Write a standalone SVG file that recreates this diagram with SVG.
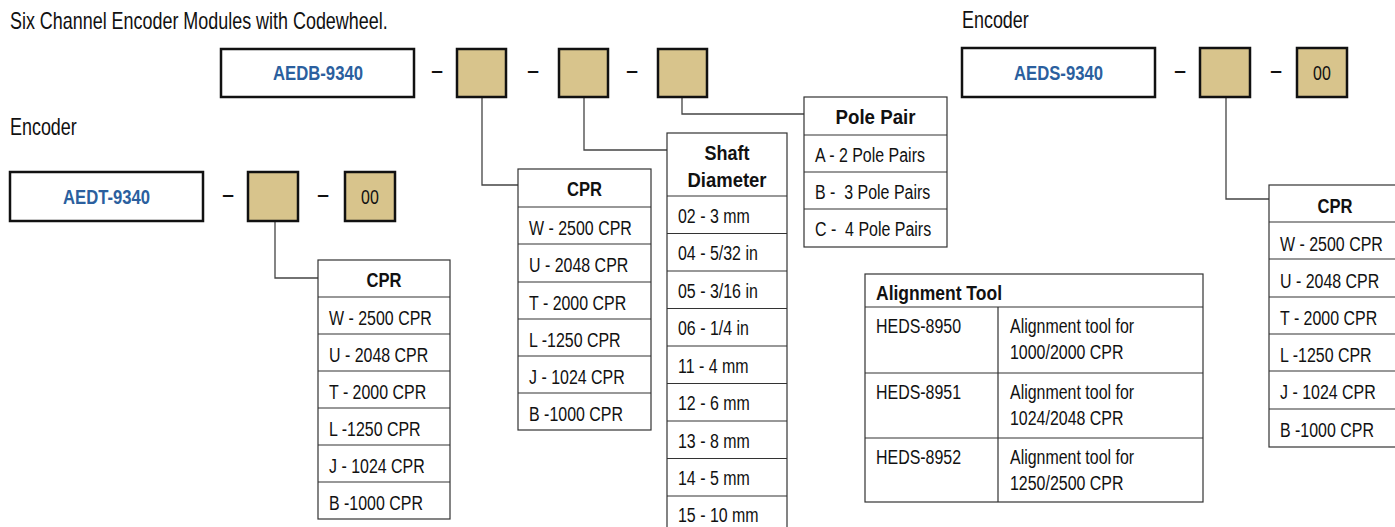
<svg xmlns="http://www.w3.org/2000/svg" width="1395" height="527" viewBox="0 0 1395 527">
<style>
text{font-family:"Liberation Sans",Arial,sans-serif;font-size:21px;fill:#111;white-space:pre;transform-box:fill-box;transform-origin:0% 50%;transform:scale(0.76,1)}
.t{font-size:23px;transform:scale(0.78,1)}
.h{font-weight:bold;text-anchor:middle;transform:none}
.hl{font-weight:bold;transform:none}
.pn{font-weight:bold;fill:#2b5f9e;text-anchor:middle;transform:none}
.c{text-anchor:middle;transform-origin:50% 50%}
.d{font-weight:bold;text-anchor:middle;transform:none}
.main{fill:#fff;stroke:#111;stroke-width:2.5}
.opt{fill:#d8c48c;stroke:#111;stroke-width:2.5}
.tb{fill:#fff;stroke:#333;stroke-width:1.2}
.rl{stroke:#333;stroke-width:1.2}
.cn{fill:none;stroke:#444;stroke-width:1.3}
</style>
<rect width="1395" height="527" fill="#fff"/>
<text class="t" x="10" y="29">Six Channel Encoder Modules with Codewheel.</text>
<text class="t" x="10" y="135">Encoder</text>
<text class="t" x="962" y="28">Encoder</text>

<g id="connectors">
<polyline class="cn" points="482,97 482,185 519,185"/>
<polyline class="cn" points="584,97 584,150 667,150"/>
<polyline class="cn" points="682,97 682,114 804,114"/>
<polyline class="cn" points="275,221 275,278 318,278"/>
<polyline class="cn" points="1226,97 1226,199 1269,199"/>
</g>

<g id="aedb">
<rect class="main" x="221" y="49" width="193" height="48"/>
<text class="pn" x="318" y="80" textLength="90" lengthAdjust="spacingAndGlyphs">AEDB-9340</text>
<text class="d" x="437" y="77">–</text>
<rect class="opt" x="457" y="49" width="49" height="48"/>
<text class="d" x="533" y="77">–</text>
<rect class="opt" x="559" y="49" width="49" height="48"/>
<text class="d" x="632" y="77">–</text>
<rect class="opt" x="658" y="49" width="49" height="48"/>
</g>

<g id="aedt">
<rect class="main" x="10" y="172" width="193" height="49"/>
<text class="pn" x="106.5" y="204" textLength="87" lengthAdjust="spacingAndGlyphs">AEDT-9340</text>
<text class="d" x="228" y="201">–</text>
<rect class="opt" x="248" y="172" width="50" height="49"/>
<text class="d" x="323" y="201">–</text>
<rect class="opt" x="345" y="172" width="50" height="49"/>
<text class="c" x="370" y="204">00</text>
</g>

<g id="aeds">
<rect class="main" x="962" y="48" width="193" height="49"/>
<text class="pn" x="1058.5" y="80" textLength="89" lengthAdjust="spacingAndGlyphs">AEDS-9340</text>
<text class="d" x="1180" y="77">–</text>
<rect class="opt" x="1200" y="48" width="50" height="49"/>
<text class="d" x="1276" y="77">–</text>
<rect class="opt" x="1297" y="48" width="50" height="49"/>
<text class="c" x="1322" y="80">00</text>
</g>

<g id="cpr-left">
<rect class="tb" x="318" y="260" width="132" height="259"/>
<path class="rl" d="M318 297H450M318 334H450M318 371H450M318 408H450M318 445H450M318 482H450"/>
<text class="h" x="384" y="287" textLength="35" lengthAdjust="spacingAndGlyphs">CPR</text>
<text x="329" y="325">W - 2500 CPR</text>
<text x="329" y="362">U - 2048 CPR</text>
<text x="329" y="399">T - 2000 CPR</text>
<text x="329" y="436">L -1250 CPR</text>
<text x="329" y="473">J - 1024 CPR</text>
<text x="329" y="510">B -1000 CPR</text>
</g>

<g id="cpr-mid">
<rect class="tb" x="518" y="169" width="133" height="261"/>
<path class="rl" d="M518 207H651M518 244H651M518 282H651M518 319H651M518 356H651M518 393H651"/>
<text class="h" x="584.5" y="196" textLength="35" lengthAdjust="spacingAndGlyphs">CPR</text>
<text x="529" y="235">W - 2500 CPR</text>
<text x="529" y="272">U - 2048 CPR</text>
<text x="529" y="310">T - 2000 CPR</text>
<text x="529" y="347">L -1250 CPR</text>
<text x="529" y="384">J - 1024 CPR</text>
<text x="529" y="421">B -1000 CPR</text>
</g>

<g id="shaft">
<rect class="tb" x="667" y="133" width="120" height="402"/>
<path class="rl" d="M667 196H787M667 233.5H787M667 271H787M667 308.5H787M667 346H787M667 383.5H787M667 421H787M667 458.5H787M667 496H787"/>
<text class="h" x="727" y="160" textLength="45" lengthAdjust="spacingAndGlyphs">Shaft</text>
<text class="h" x="727" y="187" textLength="79" lengthAdjust="spacingAndGlyphs">Diameter</text>
<text x="678" y="223">02 - 3 mm</text>
<text x="678" y="260">04 - 5/32 in</text>
<text x="678" y="298">05 - 3/16 in</text>
<text x="678" y="335">06 - 1/4 in</text>
<text x="678" y="373">11 - 4 mm</text>
<text x="678" y="410">12 - 6 mm</text>
<text x="678" y="448">13 - 8 mm</text>
<text x="678" y="485">14 - 5 mm</text>
<text x="678" y="522">15 - 10 mm</text>
</g>

<g id="pole">
<rect class="tb" x="804" y="97" width="143" height="150"/>
<path class="rl" d="M804 135H947M804 172H947M804 209H947"/>
<text class="h" x="875.5" y="124" textLength="80" lengthAdjust="spacingAndGlyphs">Pole Pair</text>
<text x="815" y="162">A - 2 Pole Pairs</text>
<text x="815" y="199">B -  3 Pole Pairs</text>
<text x="815" y="236">C -  4 Pole Pairs</text>
</g>

<g id="alignment">
<rect class="tb" x="865" y="274" width="338" height="228"/>
<path class="rl" d="M865 307H1203M865 373H1203M865 438H1203M998 307V502"/>
<text class="hl" x="876" y="300" textLength="126" lengthAdjust="spacingAndGlyphs">Alignment Tool</text>
<text x="876" y="333">HEDS-8950</text>
<text x="1010" y="333">Alignment tool for</text>
<text x="1010" y="359">1000/2000 CPR</text>
<text x="876" y="399">HEDS-8951</text>
<text x="1010" y="399">Alignment tool for</text>
<text x="1010" y="425">1024/2048 CPR</text>
<text x="876" y="464">HEDS-8952</text>
<text x="1010" y="464">Alignment tool for</text>
<text x="1010" y="490">1250/2500 CPR</text>
</g>

<g id="cpr-right">
<rect class="tb" x="1269" y="185" width="160" height="262"/>
<path class="rl" d="M1269 222H1429M1269 259H1429M1269 297H1429M1269 334H1429M1269 371H1429M1269 409H1429"/>
<text class="h" x="1335" y="213" textLength="35" lengthAdjust="spacingAndGlyphs">CPR</text>
<text x="1280" y="251">W - 2500 CPR</text>
<text x="1280" y="288">U - 2048 CPR</text>
<text x="1280" y="325">T - 2000 CPR</text>
<text x="1280" y="362">L -1250 CPR</text>
<text x="1280" y="399">J - 1024 CPR</text>
<text x="1280" y="437">B -1000 CPR</text>
</g>
</svg>
